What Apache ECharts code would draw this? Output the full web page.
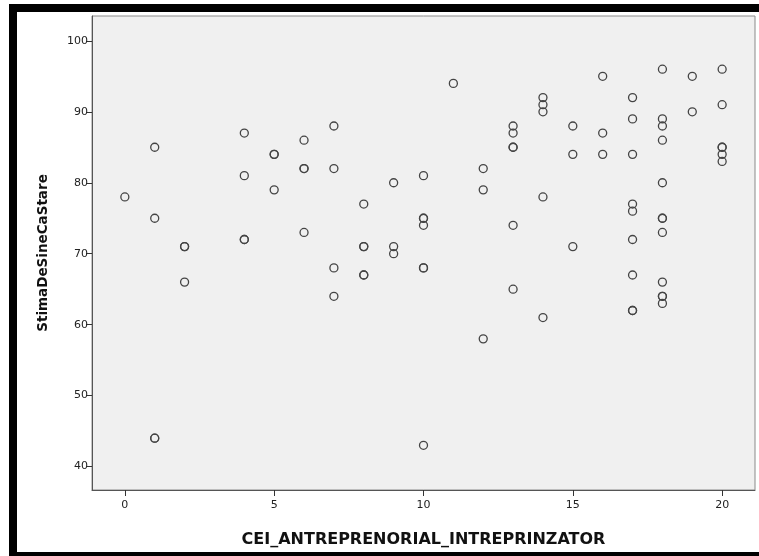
<!DOCTYPE html>
<html>
<head>
<meta charset="utf-8">
<script src="https://cdn.jsdelivr.net/npm/echarts@6/dist/echarts.min.js"></script>
<style>
html,body{margin:0;padding:0;background:#fff;}
#frame{position:absolute;left:9px;top:4px;width:760px;height:556px;box-sizing:border-box;border:8px solid #000;background:#fff;}
#chart{position:absolute;left:0;top:0;width:759px;height:556px;}
</style>
</head>
<body>
<div id="frame"></div>
<div id="chart"></div>
<script>
// CEI_ANTREPRENORIAL_INTREPRINZATOR values
const xValues = [0,1,1,1,1,2,2,2,4,4,4,4,5,5,5,6,6,6,6,7,7,7,7,8,8,8,8,8,9,9,9,10,10,10,10,10,10,10,11,12,12,12,13,13,13,13,13,13,14,14,14,14,14,15,15,15,16,16,16,17,17,17,17,17,17,17,17,17,18,18,18,18,18,18,18,18,18,18,18,18,19,19,20,20,20,20,20,20];
// StimaDeSineCaStare values
const yValues = [78,85,75,44,44,71,71,66,87,81,72,72,84,84,79,86,82,82,73,88,82,68,64,77,71,71,67,67,80,71,70,81,75,75,74,68,68,43,94,82,79,58,88,87,85,85,74,65,92,91,90,78,61,88,84,71,95,87,84,92,89,84,77,76,72,67,62,62,96,89,88,86,80,75,75,73,66,64,64,63,95,90,96,91,85,85,84,83];
const xTicks = [0,5,10,15,20];
const yTicks = [40,50,60,70,80,90,100];
const xTitle = 'CEI_ANTREPRENORIAL_INTREPRINZATOR';
const yTitle = 'StimaDeSineCaStare';

const points = xValues.map((x, i) => [x, yValues[i]]);
const chart = echarts.init(document.getElementById('chart'), null, {renderer: 'canvas'});
const font = '"DejaVu Sans", sans-serif';
chart.setOption({
  animation: false,
  backgroundColor: 'transparent',
  grid: {
    left: 92, top: 16, width: 663, height: 474,
    show: true, backgroundColor: '#f0f0f0', borderColor: '#8a8a8a', borderWidth: 1
  },
  xAxis: {
    type: 'value', min: -1.1, max: 21.1,
    name: xTitle, nameLocation: 'middle', nameGap: 42,
    nameTextStyle: {fontFamily: font, fontWeight: 'bold', fontSize: 16, color: '#111'},
    axisLine: {show: true, onZero: false, lineStyle: {color: '#555', width: 1}},
    axisTick: {show: true, length: 6, lineStyle: {color: '#333'}, customValues: xTicks},
    axisLabel: {fontFamily: font, fontSize: 11, color: '#222', margin: 10, customValues: xTicks},
    splitLine: {show: false}
  },
  yAxis: {
    type: 'value', min: 36.7, max: 103.5,
    name: yTitle, nameLocation: 'middle', nameGap: 42, nameRotate: 90,
    nameTextStyle: {fontFamily: font, fontWeight: 'bold', fontSize: 13.5, color: '#111'},
    axisLine: {show: true, onZero: false, lineStyle: {color: '#555', width: 1}},
    axisTick: {show: true, length: 6, lineStyle: {color: '#333'}, customValues: yTicks},
    axisLabel: {fontFamily: font, fontSize: 11, color: '#222', margin: 4, customValues: yTicks},
    splitLine: {show: false}
  },
  series: [{
    type: 'scatter',
    data: points,
    symbol: 'circle',
    symbolSize: 8,
    itemStyle: {color: 'rgba(0,0,0,0)', borderColor: '#444', borderWidth: 1.3, opacity: 1}
  }]
});
</script>
</body>
</html>
